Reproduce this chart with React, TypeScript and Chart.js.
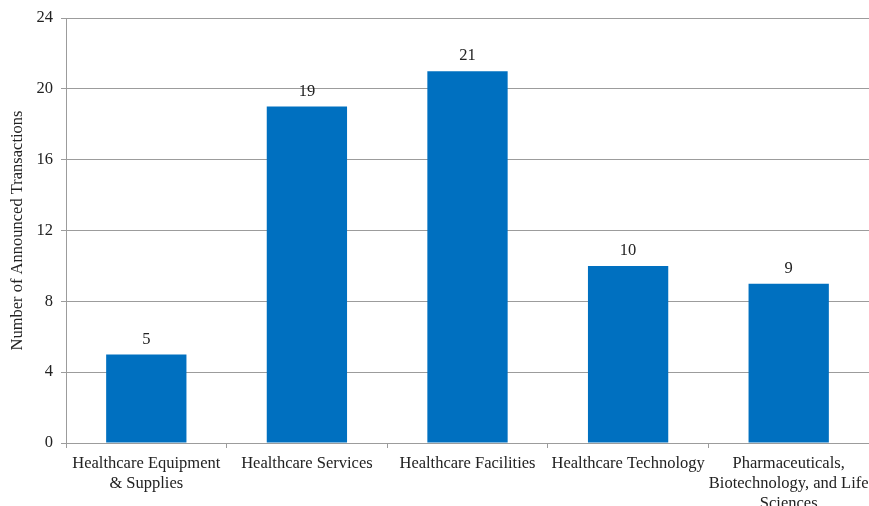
import React, { useEffect, useRef } from "react";
import { Chart, registerables } from "chart.js";

Chart.register(...registerables);

const categories: (string | string[])[] = [
  ["Healthcare Equipment", "& Supplies"],
  "Healthcare Services",
  "Healthcare Facilities",
  "Healthcare Technology",
  ["Pharmaceuticals,", "Biotechnology, and Life", "Sciences"],
];
const transactions = [5, 19, 21, 10, 9];
const yTicks = [0, 4, 8, 12, 16, 20, 24];
const yTitle = "Number of Announced Transactions";

const FONT = "'Liberation Serif', serif";
const TEXT = "#222222";
const GRID = "#9c9c9c";

const valueLabels = {
  id: "valueLabels",
  afterDatasetsDraw(chart: any) {
    const ctx = chart.ctx;
    const meta = chart.getDatasetMeta(0);
    ctx.save();
    ctx.font = `16.5px ${FONT}`;
    ctx.fillStyle = TEXT;
    ctx.textAlign = "center";
    ctx.textBaseline = "middle";
    meta.data.forEach((bar: any, i: number) => {
      ctx.fillText(String(chart.data.datasets[0].data[i]), bar.x, bar.y - 15);
    });
    ctx.restore();
  },
};

export default function App() {
  const ref = useRef<HTMLCanvasElement>(null);
  useEffect(() => {
    if (!ref.current) return;
    const chart = new Chart(ref.current, {
      type: "bar",
      data: {
        labels: categories,
        datasets: [
          {
            data: transactions,
            backgroundColor: "#0070C0",
            borderWidth: 0,
            barPercentage: 0.5,
            categoryPercentage: 1,
          },
        ],
      },
      options: {
        animation: false,
        responsive: false,
        devicePixelRatio: 1,
        layout: { padding: { top: 18, right: 0, left: 0, bottom: 0 } },
        plugins: { legend: { display: false }, tooltip: { enabled: false } },
        scales: {
          x: {
            offset: true,
            grid: {
              offset: true,
              drawOnChartArea: false,
              drawTicks: true,
              tickLength: 5,
              color: GRID,
            },
            border: { color: GRID, width: 1 },
            ticks: {
              font: { family: FONT, size: 16.5, lineHeight: 1.2 },
              color: TEXT,
              maxRotation: 0,
              minRotation: 0,
              autoSkip: false,
              padding: 6,
            },
            afterFit: (s: any) => {
              s.height = 63;
              s.paddingLeft = 0;
              s.paddingRight = 0;
            },
          },
          y: {
            min: 0,
            max: 24,
            afterBuildTicks: (s: any) => {
              s.ticks = yTicks.map((v) => ({ value: v }));
            },
            grid: { color: GRID, tickLength: 5 },
            border: { color: GRID, width: 1 },
            ticks: {
              font: { family: FONT, size: 16.5 },
              color: TEXT,
              padding: 8,
            },
            title: {
              display: true,
              text: yTitle,
              font: { family: FONT, size: 16.5 },
              color: TEXT,
              padding: { top: 8, bottom: 0 },
            },
            afterFit: (s: any) => {
              s.width = 66;
            },
          },
        },
      },
      plugins: [valueLabels],
    });
    return () => chart.destroy();
  }, []);
  return (
    <div style={{ position: "fixed", left: 0, top: 0, width: 869, height: 506, background: "#fff" }}>
      <canvas ref={ref} width={869} height={506} style={{ width: 869, height: 506 }} />
    </div>
  );
}
